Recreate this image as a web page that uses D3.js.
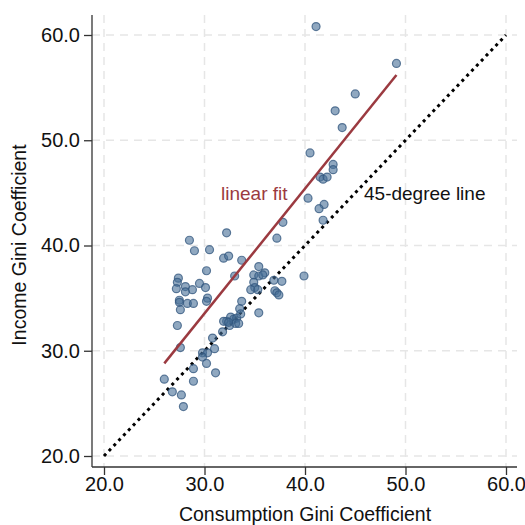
<!DOCTYPE html>
<html>
<head>
<meta charset="utf-8">
<script src="https://cdn.jsdelivr.net/npm/d3@7"></script>
<style>
  html, body { margin: 0; padding: 0; background: #fff; }
  svg { display: block; font-family: "Liberation Sans", Arial, sans-serif; }
</style>
</head>
<body>
<svg id="chart" width="525" height="525"></svg>
<script>
// Consumption Gini (x) vs Income Gini (y)
const consumptionGini = [
  41.1, 49.1, 45.0, 43.0, 43.7, 40.5, 42.8, 42.8, 41.5, 41.8,
  42.2, 40.3, 41.9, 41.4, 41.8, 37.8, 37.2, 32.2, 28.5, 29.0,
  30.5, 31.9, 32.4, 33.7, 35.4, 34.9, 35.4, 36.0, 35.8, 34.9,
  35.0, 34.6, 35.3, 36.9, 37.7, 39.9, 37.0, 37.2, 37.4, 33.0,
  30.2, 27.4, 27.3, 29.5, 28.1, 27.2, 28.8, 30.1, 28.1, 27.5,
  27.5, 28.3, 28.9, 30.3, 30.2, 27.6, 27.3, 33.7, 33.5, 35.4,
  32.2, 32.6, 32.9, 33.2, 33.6, 32.5, 33.1, 31.9, 33.4, 32.4,
  31.8, 30.8, 31.0, 29.8, 30.3, 27.6, 29.8, 30.2, 28.9, 31.1,
  26.0, 28.9, 26.8, 27.7, 27.9
];
const incomeGini = [
  60.8, 57.3, 54.4, 52.8, 51.2, 48.8, 47.7, 47.2, 46.5, 46.3,
  46.5, 44.5, 43.9, 43.5, 42.4, 42.2, 40.7, 41.2, 40.5, 39.5,
  39.6, 38.8, 39.0, 38.6, 38.0, 37.2, 37.1, 37.4, 37.2, 36.5,
  36.0, 35.8, 35.8, 36.7, 36.6, 37.1, 35.7, 35.5, 35.3, 37.1,
  37.6, 36.9, 36.5, 36.4, 36.1, 35.9, 35.8, 36.0, 35.6, 34.8,
  34.6, 34.5, 34.5, 35.0, 34.7, 33.9, 32.4, 34.7, 34.0, 33.6,
  32.8, 33.2, 33.0, 33.1, 33.5, 32.4, 32.6, 32.8, 32.6, 32.7,
  31.8, 31.2, 30.2, 29.8, 29.8, 30.3, 29.4, 28.8, 28.3, 27.9,
  27.3, 27.1, 26.1, 25.8, 24.7
];
// Linear fit endpoints (as drawn in the reference)
const fitX = [26.0, 49.1];
const fitY = [28.8, 56.2];
// 45-degree line
const diagX = [20, 60];
const diagY = [20, 60];
const xTicks = [20, 30, 40, 50, 60];
const yTicks = [20, 30, 40, 50, 60];
const xTitle = "Consumption Gini Coefficient";
const yTitle = "Income Gini Coefficient";
const fitLabel = "linear fit";
const diagLabel = "45-degree line";

const svg = d3.select("#chart");
const x = d3.scaleLinear().domain([20, 60]).range([104, 506]);
const y = d3.scaleLinear().domain([20, 60]).range([456, 35]);
const axisX0 = 92, axisY0 = 467, plotTop = 15, plotRight = 517;
const fmt = d3.format(".1f");

// gridlines
const grid = svg.append("g");
grid.selectAll("line.gx").data(xTicks).join("line")
  .attr("x1", d => x(d)).attr("x2", d => x(d))
  .attr("y1", plotTop).attr("y2", axisY0)
  .attr("stroke", "#e6e6e6").attr("stroke-width", 1.5).attr("stroke-dasharray", "8,6");
grid.selectAll("line.gy").data(yTicks).join("line")
  .attr("y1", d => y(d)).attr("y2", d => y(d))
  .attr("x1", axisX0).attr("x2", plotRight)
  .attr("stroke", "#e6e6e6").attr("stroke-width", 1.5).attr("stroke-dasharray", "8,6");

// axes
const xAxis = svg.append("g").attr("transform", `translate(0,${axisY0})`)
  .call(d3.axisBottom(x).tickValues(xTicks).tickFormat(fmt).tickSize(8).tickPadding(2));
const yAxis = svg.append("g").attr("transform", `translate(${axisX0},0)`)
  .call(d3.axisLeft(y).tickValues(yTicks).tickFormat(fmt).tickSize(8).tickPadding(4));
[xAxis, yAxis].forEach(a => {
  a.select(".domain").remove();
  a.selectAll(".tick line").attr("stroke", "#333").attr("stroke-width", 1.3);
  a.selectAll(".tick text").attr("fill", "#111").style("font-size", "20px")
    .style("font-family", "'Liberation Sans', Arial, sans-serif");
});
svg.append("line").attr("x1", axisX0).attr("x2", axisX0).attr("y1", plotTop).attr("y2", axisY0)
  .attr("stroke", "#333").attr("stroke-width", 1.3);
svg.append("line").attr("x1", axisX0).attr("x2", plotRight).attr("y1", axisY0).attr("y2", axisY0)
  .attr("stroke", "#333").attr("stroke-width", 1.3);

// titles
svg.append("text").attr("x", 305).attr("y", 521).attr("text-anchor", "middle")
  .style("font-size", "19.5px").attr("fill", "#111").text(xTitle);
svg.append("text").attr("transform", "translate(26,245) rotate(-90)").attr("text-anchor", "middle")
  .style("font-size", "19.5px").attr("fill", "#111").text(yTitle);

// 45-degree line
const line = d3.line().x(d => x(d[0])).y(d => y(d[1]));
svg.append("path").datum(d3.zip(diagX, diagY)).attr("d", line)
  .attr("fill", "none").attr("stroke", "#000").attr("stroke-width", 3).attr("stroke-dasharray", "3,4");

// points
svg.append("g").selectAll("circle").data(d3.zip(consumptionGini, incomeGini)).join("circle")
  .attr("cx", d => x(d[0])).attr("cy", d => y(d[1])).attr("r", 4)
  .attr("fill", "rgba(70,110,150,0.6)").attr("stroke", "rgba(50,85,125,0.75)").attr("stroke-width", 1.2);

// linear fit
svg.append("path").datum(d3.zip(fitX, fitY)).attr("d", line)
  .attr("fill", "none").attr("stroke", "#9b3a40").attr("stroke-width", 2.5);

// labels
svg.append("text").attr("x", 221).attr("y", 200).style("font-size", "19px")
  .attr("fill", "#9b3a40").text(fitLabel);
svg.append("text").attr("x", 364).attr("y", 200).style("font-size", "19px")
  .attr("fill", "#111").text(diagLabel);
</script>
</body>
</html>
